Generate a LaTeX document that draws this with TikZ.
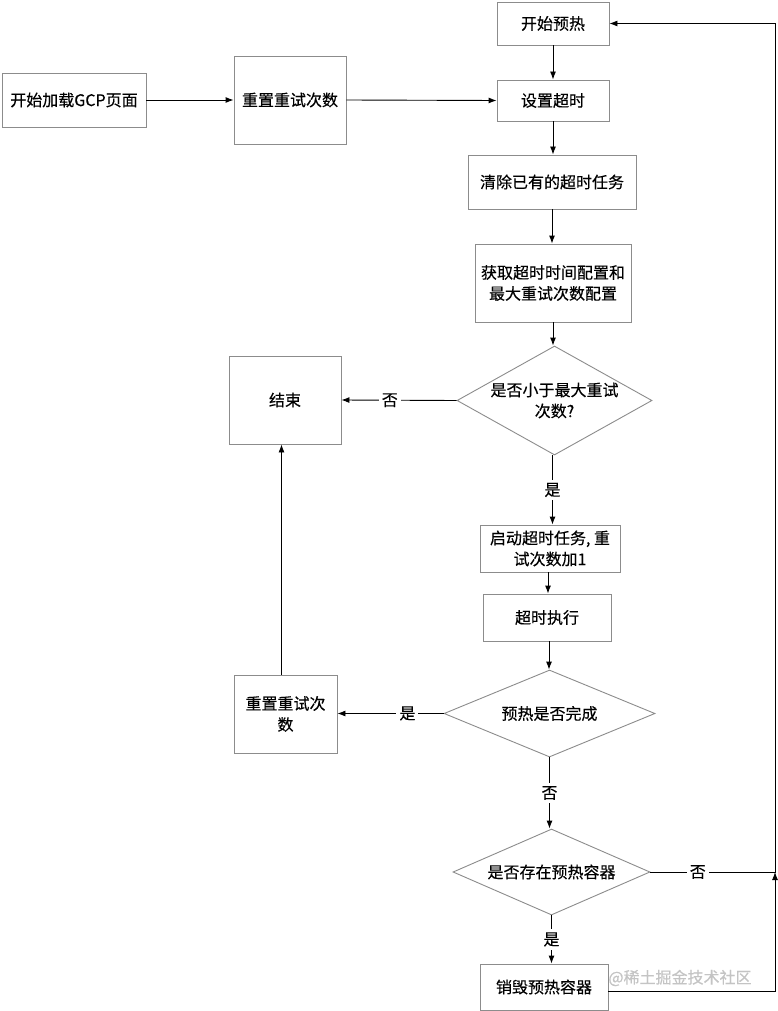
\documentclass[tikz,border=0pt]{standalone}
\usepackage{fontspec}
\setmainfont{Noto Sans CJK SC}[FakeBold=0.3]
\usetikzlibrary{shapes.geometric,arrows.meta}
\definecolor{boxgray}{HTML}{8C8C8C}
\definecolor{wmgray}{HTML}{C4C4C4}
\tikzset{
  box/.style={draw=boxgray, line width=0.9pt, fill=white, align=center, inner sep=2pt, font=\fontsize{16}{21}\selectfont},
  dia/.style={draw=boxgray, line width=0.9pt, diamond, inner sep=0pt},
  diatext/.style={align=center, font=\fontsize{16}{21}\selectfont},
  arr/.style={line width=0.9pt, -{Latex[length=8pt,width=6pt]}},
  lbl/.style={fill=white, inner sep=3pt, font=\fontsize{16}{21}\selectfont},
}
\begin{document}
\begin{tikzpicture}[x=1pt,y=-1pt]
\useasboundingbox (0,0) rectangle (778,1011);
\fill[white] (0,0) rectangle (778,1011);
% boxes
\node[box, minimum width=112pt, minimum height=43pt] (warm) at (553,23.5) {开始预热};
\node[box, minimum width=144pt, minimum height=54pt] (load) at (74,100) {开始加载GCP页面};
\node[box, minimum width=112pt, minimum height=88pt] (reset1) at (290,100) {重置重试次数};
\node[box, minimum width=112pt, minimum height=41pt] (setto) at (553,100.5) {设置超时};
\node[box, minimum width=168pt, minimum height=54pt] (clear) at (552,182) {清除已有的超时任务};
\node[box, minimum width=156pt, minimum height=78pt] (getcfg) at (553,283) {获取超时时间配置和\\最大重试次数配置};
\node[dia, minimum width=195pt, minimum height=109pt] (d1) at (554.5,400.5) {};
\node[diatext] (d1t) at (d1.center) {是否小于最大重试\\次数?};
\node[box, minimum width=112pt, minimum height=88pt] (end) at (285,400) {结束};
\node[box, minimum width=140pt, minimum height=47pt] (task) at (550,548.5) {启动超时任务, 重\\试次数加1};
\node[box, minimum width=128pt, minimum height=47pt] (exec) at (547,617.5) {超时执行};
\node[dia, minimum width=211pt, minimum height=87pt] (d2) at (549.5,713.5) {};
\node[diatext] (d2t) at (d2.center) {预热是否完成};
\node[box, minimum width=103pt, minimum height=78pt] (reset2) at (285.5,714) {重置重试次\\数};
\node[dia, minimum width=197pt, minimum height=86pt] (d3) at (551.5,872) {};
\node[diatext] (d3t) at (d3.center) {是否存在预热容器};
\node[box, minimum width=128pt, minimum height=46pt] (destroy) at (544,987) {销毁预热容器};
\coordinate (j) at (775,872);
% edges
\draw[arr] (load.east) -- (reset1.west);
\draw[arr] (reset1.east) -- (setto.west);
\draw[arr] (warm.south) -- (setto.north);
\draw[arr] (setto.south) -- (setto.south |- clear.north);
\draw[arr] (clear.south) -- (clear.south |- getcfg.north);
\draw[arr] (getcfg.south) -- (getcfg.south |- d1.north);
\draw[arr] (d1.west) -- node[lbl, pos=0.58] {否} (end.east);
\draw[arr] ([xshift=-2pt]d1.south) -- node[lbl] {是} ([xshift=-2pt]d1.south |- task.north);
\draw[arr] ([xshift=-2pt]task.south) -- ([xshift=-2pt]task.south |- exec.north);
\draw[arr] ([xshift=2pt]exec.south) -- ([xshift=2pt]exec.south |- d2.north);
\draw[arr] (d2.west) -- node[lbl, pos=0.34] {是} (d2.west -| reset2.east);
\draw[arr] ([xshift=-4pt]reset2.north) -- ([xshift=-4pt]reset2.north |- end.south);
\draw[arr] (d2.south) -- node[lbl] {否} (d2.south |- d3.north);
\draw[arr] (d3.south) -- node[lbl] {是} (d3.south |- destroy.north);
\draw[arr] ([yshift=-4pt]destroy.east) -| (j);
\draw[arr] (d3.east) -- node[lbl, pos=0.38] {否} (j) |- (warm.east);
% watermark
\node[font=\fontsize{16}{20}\selectfont, text=wmgray, inner sep=0pt] (wm) at (680,978) {@稀土掘金技术社区};
\end{tikzpicture}
\end{document}
